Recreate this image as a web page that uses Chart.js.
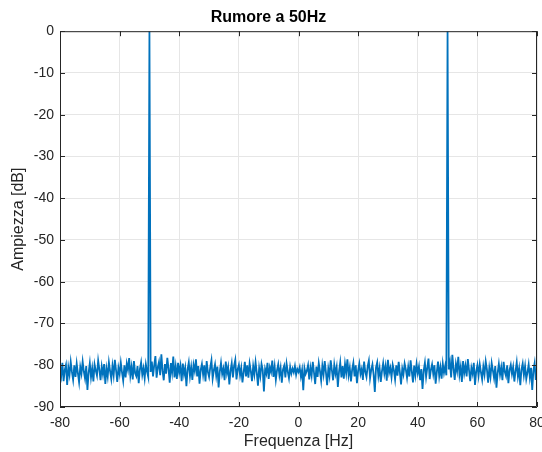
<!DOCTYPE html>
<html>
<head>
<meta charset="utf-8">
<title>Rumore a 50Hz</title>
<script src="https://cdn.jsdelivr.net/npm/chart.js@4/dist/chart.umd.min.js"></script>
<style>
  html, body { margin: 0; padding: 0; background: #fff; }
  #wrap { width: 542px; height: 452px; }
</style>
</head>
<body>
<div id="wrap"><canvas id="spettro" width="542" height="452"></canvas></div>
<script>
// Spettro: asse frequenze da -80 a 80 Hz, passo 0.4 Hz
var freqStart = -80;
var freqStep = 0.4;

var xTicks = [-80, -60, -40, -20, 0, 20, 40, 60, 80];
var yTicks = [-90, -80, -70, -60, -50, -40, -30, -20, -10, 0];

// ampiezze in dB (una riga ogni 8 Hz); i due picchi a -50 e +50 Hz
var ampiezzaDb = [
  -80.9,-82.6,-79.4,-83.8,-81.1,-79.9,-84.7,-80.5,-82.3,-79.2,-81.6,-83.5,-80.0,-82.8,-79.6,-81.9,-84.1,-80.4,-82.0,-79.1,
  -81.5,-83.2,-80.2,-85.9,-81.8,-79.5,-82.9,-80.7,-83.9,-79.8,-81.3,-82.5,-78.9,-81.0,-83.6,-80.3,-82.2,-79.7,-84.5,-80.8,
  -82.7,-79.3,-81.4,-83.3,-80.1,-82.4,-78.7,-81.2,-84.0,-80.6,-82.1,-79.4,-81.7,-83.7,-80.0,-82.9,-79.6,-81.1,-78.3,-82.5,
  -80.4,-83.4,-79.0,-81.9,-82.6,-80.2,-84.3,-80.9,-79.3,-82.3,-80.7,-83.1,-79.8,-81.5,-82.8,0,-81.6,-79.1,-82.7,-80.0,
  -77.8,-83.0,-80.5,-79.2,-82.4,-77.4,-81.3,-83.6,-79.7,-82.0,-78.2,-80.8,-84.2,-79.5,-81.7,-77.9,-82.9,-80.3,-83.3,-79.4,
  -81.8,-80.1,-83.8,-79.6,-82.2,-80.6,-85.0,-81.0,-79.3,-82.6,-80.4,-83.5,-79.9,-81.4,-78.6,-82.7,-80.2,-84.4,-81.1,-79.7,
  -82.3,-80.0,-83.9,-79.0,-81.6,-82.8,-80.5,-78.8,-83.2,-81.2,-79.8,-82.5,-80.3,-85.3,-81.5,-79.4,-82.1,-80.8,-83.6,-79.1,
  -81.9,-80.4,-84.6,-81.3,-79.5,-82.9,-80.1,-78.7,-83.4,-81.0,-79.9,-82.4,-80.6,-84.1,-81.7,-79.2,-82.7,-80.0,-83.0,-79.6,
  -81.4,-83.8,-80.2,-82.2,-79.3,-81.8,-84.9,-80.7,-82.6,-79.7,-81.1,-86.3,-80.9,-82.0,-79.4,-83.3,-80.5,-81.6,-78.9,-82.8,
  -80.3,-83.5,-81.2,-79.8,-82.4,-80.6,-84.2,-81.0,-80.1,-82.9,-79.6,-81.5,-83.1,-80.4,-82.0,-80.8,-81.7,-80.2,-82.3,-80.9,
  -81.6,-80.5,-82.7,-81.1,-86.0,-80.7,-82.1,-81.3,-80.0,-83.4,-80.6,-82.5,-79.2,-81.8,-84.5,-80.3,-82.8,-79.5,-81.4,-83.7,
  -80.1,-82.2,-79.0,-81.7,-84.8,-80.8,-82.6,-78.8,-81.2,-83.6,-79.9,-82.0,-80.4,-85.2,-81.5,-79.3,-82.9,-80.2,-83.2,-79.7,
  -81.9,-78.6,-82.4,-80.6,-83.9,-81.0,-79.4,-82.7,-80.0,-84.3,-81.3,-79.6,-82.1,-80.9,-83.5,-79.1,-81.6,-82.8,-80.3,-78.9,
  -83.1,-81.1,-79.8,-82.3,-86.4,-80.5,-79.3,-82.6,-80.7,-84.0,-81.4,-79.5,-82.0,-80.2,-83.7,-78.7,-81.8,-80.6,-82.9,-79.9,
  -81.2,-83.4,-80.0,-82.5,-79.2,-81.7,-84.6,-80.8,-82.2,-79.6,-81.0,-83.0,-80.4,-82.7,-78.8,-81.5,-84.1,-80.1,-82.4,-79.7,
  -81.9,-80.3,-83.6,-80.9,-85.7,-81.3,-79.4,-82.8,-80.6,-78.4,-83.3,-81.1,-79.8,-82.1,-80.0,-84.4,-81.6,-79.1,-82.6,-80.5,
  -83.2,-79.6,-81.8,-80.2,-82.4,0,-81.0,-79.3,-82.9,-77.5,-80.8,-83.5,-79.7,-81.4,-78.0,-82.3,-80.4,-84.0,-79.0,-81.9,
  -80.1,-82.7,-78.5,-81.2,-83.8,-80.6,-82.0,-79.4,-84.7,-81.5,-80.0,-82.5,-79.8,-81.7,-83.4,-80.3,-82.2,-79.1,-81.0,-84.2,
  -80.7,-82.8,-79.5,-81.3,-83.1,-80.2,-85.4,-81.8,-79.7,-82.3,-80.5,-83.6,-79.2,-81.6,-82.6,-80.0,-84.3,-81.1,-79.9,-82.1,
  -80.4,-83.9,-81.4,-79.3,-82.7,-80.8,-84.8,-81.0,-79.6,-82.4,-80.2,-83.3,-81.7,-79.8,-82.9,-80.6,-85.9,-81.2,-79.5,-83.5,
  -81.0
];

var punti = ampiezzaDb.map(function(v, i) {
  return { x: Math.round((freqStart + i * freqStep) * 10) / 10, y: v };
});

var coloreAssi = '#262626';
var famiglia = "'Liberation Sans', Arial, Helvetica, sans-serif";
var fontTacche = { family: famiglia, size: 14 };
var fontEtichette = { family: famiglia, size: 16 };

// cornice chiusa e tacche verso l'interno, come nei grafici di MATLAB
var cornice = {
  id: 'cornice',
  afterDraw: function(chart) {
    var ctx = chart.ctx;
    var a = chart.chartArea;
    var sx = chart.scales.x, sy = chart.scales.y;
    var len = 5;
    ctx.save();
    ctx.strokeStyle = coloreAssi;
    ctx.lineWidth = 1;
    ctx.beginPath();
    ctx.rect(a.left + 0.5, a.top + 0.5, a.right - a.left - 1, a.bottom - a.top - 1);
    xTicks.forEach(function(t) {
      var px = Math.round(sx.getPixelForValue(t)) + 0.5;
      ctx.moveTo(px, a.bottom); ctx.lineTo(px, a.bottom - len);
      ctx.moveTo(px, a.top); ctx.lineTo(px, a.top + len);
    });
    yTicks.forEach(function(t) {
      var py = Math.round(sy.getPixelForValue(t)) + 0.5;
      ctx.moveTo(a.left, py); ctx.lineTo(a.left + len, py);
      ctx.moveTo(a.right, py); ctx.lineTo(a.right - len, py);
    });
    ctx.stroke();
    ctx.restore();
  }
};

// nessuno spazio extra per le etichette agli estremi degli assi
function senzaMargini(s) {
  s.paddingLeft = 0;
  s.paddingRight = 0;
  s.paddingTop = 0;
  s.paddingBottom = 0;
}

new Chart(document.getElementById('spettro'), {
  type: 'line',
  data: {
    datasets: [{
      label: 'Rumore',
      data: punti,
      borderColor: '#0072BD',
      borderWidth: 1.8,
      borderJoinStyle: 'miter',
      pointRadius: 0,
      fill: false,
      tension: 0
    }]
  },
  options: {
    responsive: false,
    animation: false,
    layout: { padding: { left: 0, right: 5, top: 0, bottom: 0 } },
    plugins: {
      legend: { display: false },
      tooltip: { enabled: false },
      title: {
        display: true,
        text: 'Rumore a 50Hz',
        color: '#000',
        font: { family: famiglia, size: 16, weight: 'bold' },
        padding: { top: 8, bottom: 4 }
      }
    },
    scales: {
      x: {
        type: 'linear',
        min: -80,
        max: 80,
        afterFit: function(s) { s.height = 45; senzaMargini(s); },
        afterBuildTicks: function(s) { s.ticks = xTicks.map(function(v) { return { value: v }; }); },
        grid: { color: '#e6e6e6', drawTicks: false },
        border: { display: false },
        ticks: { color: coloreAssi, font: fontTacche, padding: 8, maxRotation: 0 },
        title: {
          display: true,
          text: 'Frequenza [Hz]',
          color: coloreAssi,
          font: fontEtichette,
          padding: { top: 0, bottom: 1 }
        }
      },
      y: {
        min: -90,
        max: 0,
        afterFit: function(s) { s.width = 60; senzaMargini(s); },
        afterBuildTicks: function(s) { s.ticks = yTicks.map(function(v) { return { value: v }; }); },
        grid: { color: '#e6e6e6', drawTicks: false },
        border: { display: false },
        ticks: { color: coloreAssi, font: fontTacche, padding: 6 },
        title: {
          display: true,
          text: 'Ampiezza [dB]',
          color: coloreAssi,
          font: fontEtichette,
          padding: { top: 9, bottom: 0 }
        }
      }
    }
  },
  plugins: [cornice]
});
</script>
</body>
</html>
